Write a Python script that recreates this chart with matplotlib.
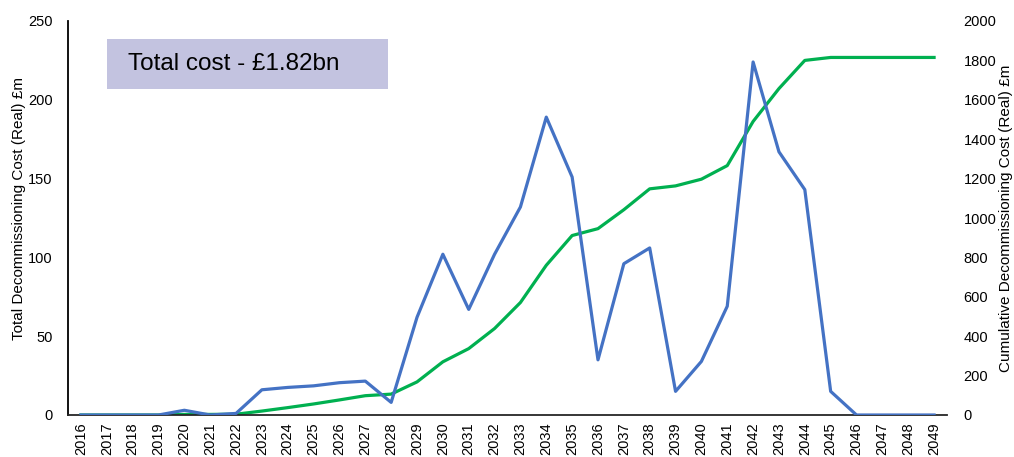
import numpy as np
import matplotlib
matplotlib.use("Agg")
import matplotlib.pyplot as plt

plt.rcParams['font.family'] = ['Liberation Sans', 'DejaVu Sans']

years = list(range(2016, 2050))
annual_cost = [0, 0, 0, 0, 3, 0, 1, 16, 17.5, 18.5, 20.5, 21.5, 8, 62,
               102, 67, 102, 132, 189, 151, 35, 96, 106, 15, 34, 69,
               224, 167, 143, 15, 0, 0, 0, 0]
cumulative_cost = np.cumsum(annual_cost)
left_ticks = [0, 50, 100, 150, 200, 250]
right_ticks = [0, 200, 400, 600, 800, 1000, 1200, 1400, 1600, 1800, 2000]
total_label = "Total cost - £1.82bn"

W, H = 1014, 457
fig = plt.figure(figsize=(W / 100, H / 100), dpi=100)
ax = fig.add_axes([68 / W, 42 / H, 879 / W, 394 / H])
ax2 = ax.twinx()

ax.plot(years, annual_cost, color="#4472C4", lw=2.3, zorder=3)
ax2.plot(years, cumulative_cost, color="#00B050", lw=2.3, zorder=2)

ax.set_xlim(2015.5, 2049.5)
ax.set_ylim(0, 250)
ax2.set_ylim(0, 2000)
ax.set_xticks(years)
ax.set_xticklabels([str(y) for y in years], rotation=90, fontsize=10.5)
ax.set_yticks(left_ticks)
ax.set_yticklabels([str(t) for t in left_ticks], fontsize=10.5)
ax2.set_yticks(right_ticks)
ax2.set_yticklabels([str(t) for t in right_ticks], fontsize=10.5)

ax.tick_params(axis='both', length=0)
ax.tick_params(axis='y', pad=11)
ax.tick_params(axis='x', pad=5)
ax2.tick_params(axis='y', length=0, pad=12)

for a in (ax, ax2):
    for s in ("top", "right"):
        a.spines[s].set_visible(False)
ax2.spines["left"].set_visible(False)
ax2.spines["bottom"].set_visible(False)
ax.spines["left"].set_color("#000000")
ax.spines["bottom"].set_color("#262626")
ax.spines["left"].set_linewidth(1.3)
ax.spines["bottom"].set_linewidth(1.3)

ax.set_ylabel("Total Decommissioning Cost (Real) £m", fontsize=11)
ax.yaxis.set_label_coords(-42 / 879, 0.525)
ax2.set_ylabel("Cumulative Decommissioning Cost (Real) £m", fontsize=11,
               rotation=90, va="center")
ax2.yaxis.set_label_coords((1006 - 68) / 879, 0.5)

ax.set_zorder(ax2.get_zorder() + 1)
ax.patch.set_visible(False)

fig.patches.append(plt.Rectangle((107 / W, 1 - 89 / H), 281 / W, 50 / H,
                                 transform=fig.transFigure, facecolor="#C3C3E0",
                                 edgecolor="none", zorder=5))
fig.text(128 / W, 1 - 64 / H, total_label, fontsize=17.5, va="center",
         ha="left", color="#000000", zorder=6)

fig.savefig("out.png", dpi=100)
